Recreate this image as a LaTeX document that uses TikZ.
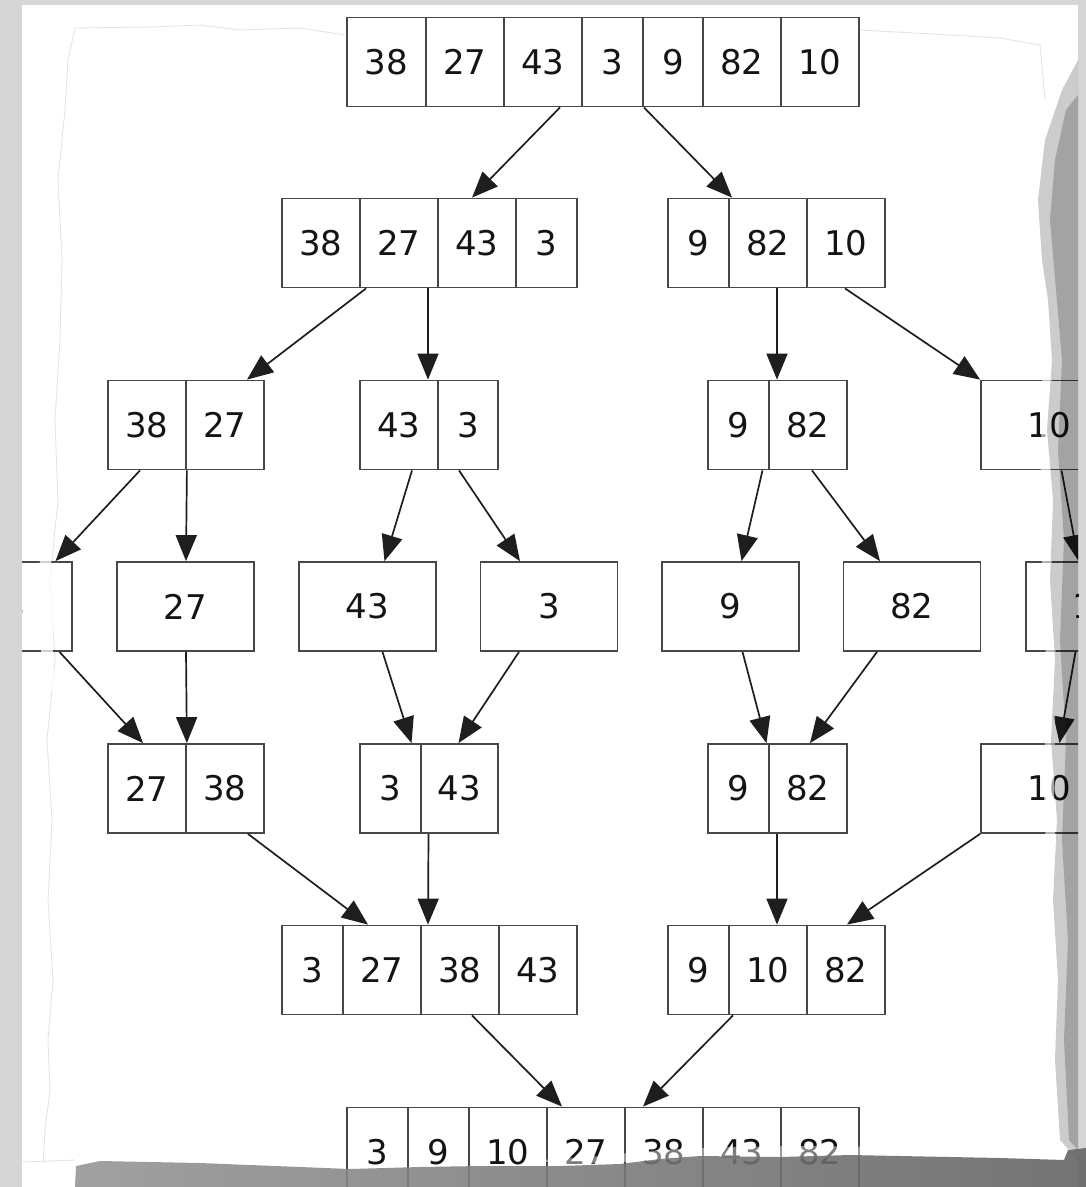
\documentclass[tikz,border=0pt]{standalone}
\usepackage{fontspec}
\setmainfont{DejaVu Sans}
\usetikzlibrary{arrows.meta}
\definecolor{bggray}{HTML}{D6D6D6}
\definecolor{boxc}{HTML}{484848}
\definecolor{arrc}{HTML}{1E1E1E}
\definecolor{torn}{HTML}{E2E2E2}
\begin{document}
\begin{tikzpicture}[x=1pt,y=-1pt,
  cell/.style={draw=boxc, line width=1.8pt, minimum height=89pt, inner sep=0pt,
    font=\fontsize{34}{40}\selectfont, text=black!92},
  w1/.style={cell, minimum width=61pt},
  w2/.style={cell, minimum width=78pt},
  w5/.style={cell, minimum width=137pt},
  arr/.style={draw=arrc, line width=1.7pt, -{Triangle[length=26pt,width=21pt]}},
  tornline/.style={draw=torn, line width=0.8pt}]
\useasboundingbox (0,0) rectangle (1086,1187);
\fill[bggray] (0,0) rectangle (1086,1187);
\fill[white] (22,5) rectangle (1078,1187);
% faint torn edges
\draw[tornline] (43,1163) -- (45,1130) -- (50,1090) -- (48,1040) -- (53,980) -- (48,900) -- (52,820) -- (47,740) -- (55,660) -- (50,580) -- (58,500) -- (55,420) -- (60,340) -- (62,260) -- (58,180) -- (65,110) -- (68,60) -- (75,28) -- (150,27) -- (200,25) -- (240,30) -- (300,28) -- (345,35);
\draw[tornline] (860,30) -- (950,35) -- (1000,38) -- (1040,45) -- (1045,100);
\draw[tornline] (22,1162) -- (75,1160);
\begin{scope}
\clip (22,5) rectangle (1078,1187);
% row 1
\node[w2, minimum width=79pt] (r1c1) at (386.5,62) {38};
\node[w2] (r1c2) at (465,62) {27};
\node[w2] (r1c3) at (543,62) {43};
\node[w1] (r1c4) at (612.5,62) {3};
\node[w1, minimum width=60pt] (r1c5) at (673,62) {9};
\node[w2] (r1c6) at (742,62) {82};
\node[w2] (r1c7) at (820,62) {10};
% row 2
\node[w2] (r2l1) at (321,243) {38};
\node[w2] (r2l2) at (399,243) {27};
\node[w2] (r2l3) at (477,243) {43};
\node[w1] (r2l4) at (546.5,243) {3};
\node[w1] (r2r1) at (698.5,243) {9};
\node[w2] (r2r2) at (768,243) {82};
\node[w2] (r2r3) at (846,243) {10};
% row 3
\node[w2] (r3a1) at (147,425) {38};
\node[w2] (r3a2) at (225,425) {27};
\node[w2] (r3b1) at (399,425) {43};
\node[w1, minimum width=60pt] (r3b2) at (468,425) {3};
\node[w1] (r3c1) at (738.5,425) {9};
\node[w2] (r3c2) at (808,425) {82};
\node[w5] (r3d) at (1049.5,425) {10};
% row 4
\node[w5] (r4a) at (3.5,606.5) {38};
\node[w5] (r4b) at (185.5,606.5) {27};
\node[w5] (r4c) at (367.5,606.5) {43};
\node[w5] (r4d) at (549,606.5) {3};
\node[w5] (r4e) at (730.5,606.5) {9};
\node[w5] (r4f) at (912,606.5) {82};
\node[w5] (r4g) at (1094.5,606.5) {10};
% row 5
\node[w2] (r5a1) at (147,788.5) {27};
\node[w2] (r5a2) at (225,788.5) {38};
\node[w1] (r5b1) at (390.5,788.5) {3};
\node[w2, minimum width=77pt] (r5b2) at (459.5,788.5) {43};
\node[w1] (r5c1) at (738.5,788.5) {9};
\node[w2] (r5c2) at (808,788.5) {82};
\node[w5] (r5d) at (1049.5,788.5) {10};
% row 6
\node[w1] (r6l1) at (312.5,970) {3};
\node[w2] (r6l2) at (382,970) {27};
\node[w2] (r6l3) at (460,970) {38};
\node[w2] (r6l4) at (538,970) {43};
\node[w1] (r6r1) at (698.5,970) {9};
\node[w2] (r6r2) at (768,970) {10};
\node[w2] (r6r3) at (846,970) {82};
% row 7
\node[w1] (r7c1) at (377.5,1152) {3};
\node[w1] (r7c2) at (438.5,1152) {9};
\node[w2] (r7c3) at (508,1152) {10};
\node[w2] (r7c4) at (586,1152) {27};
\node[w2] (r7c5) at (664,1152) {38};
\node[w2] (r7c6) at (742,1152) {43};
\node[w2] (r7c7) at (820,1152) {82};
% arrows
\draw[arr] ([xshift=17pt]r1c3.south) -- ([xshift=-5pt]r2l3.north);
\draw[arr] (r1c4.south east) -- ([xshift=4pt]r2r2.north west);
\draw[arr] ([xshift=7pt]r2l2.south west) -- ([xshift=22pt]r3a2.north);
\draw[arr] ([xshift=29pt]r2l2.south) -- ([xshift=29pt]r3b1.north);
\draw[arr] ([xshift=9pt]r2r2.south) -- ([xshift=-31pt]r3c2.north);
\draw[arr] ([xshift=-1pt]r2r3.south) -- (r3d.north west);
\draw[arr] ([xshift=-7pt]r3a1.south) -- ([xshift=52pt]r4a.north);
\draw[arr] (r3a1.south east) -- ([xshift=0.5pt]r4b.north);
\draw[arr] ([xshift=13pt]r3b1.south) -- ([xshift=17pt]r4c.north);
\draw[arr] ([xshift=-9pt]r3b2.south) -- ([xshift=-29pt]r4d.north);
\draw[arr] ([xshift=24pt]r3c1.south) -- ([xshift=11pt]r4e.north);
\draw[arr] ([xshift=4pt]r3c2.south) -- ([xshift=-32pt]r4f.north);
\draw[arr] ([xshift=12pt]r3d.south) -- ([xshift=-16pt]r4g.north);
\draw[arr] ([xshift=56pt]r4a.south) -- ([xshift=-4pt]r5a1.north);
\draw[arr] ([xshift=0.5pt]r4b.south) -- (r5a1.north east);
\draw[arr] ([xshift=15pt]r4c.south) -- ([xshift=21pt]r5b1.north);
\draw[arr] ([xshift=-30pt]r4d.south) -- ([xshift=-1pt]r5b2.north);
\draw[arr] ([xshift=12pt]r4e.south) -- ([xshift=28pt]r5c1.north);
\draw[arr] ([xshift=-35pt]r4f.south) -- ([xshift=2pt]r5c2.north);
\draw[arr] ([xshift=-19pt]r4g.south) -- ([xshift=10pt]r5d.north);
\draw[arr] ([xshift=23pt]r5a2.south) -- ([xshift=-14pt]r6l2.north);
\draw[arr] ([xshift=-31pt]r5b2.south) -- ([xshift=-32pt]r6l3.north);
\draw[arr] ([xshift=-31pt]r5c2.south) -- ([xshift=9pt]r6r2.north);
\draw[arr] (r5d.south west) -- ([xshift=1pt]r6r3.north);
\draw[arr] ([xshift=12pt]r6l3.south) -- ([xshift=-24pt]r7c4.north);
\draw[arr] ([xshift=-35pt]r6r2.south) -- ([xshift=-21pt]r7c5.north);
\end{scope}
% left torn strip (fades the cut box)
\fill[white, opacity=0.75] (34,520) -- (40,560) -- (36,600) -- (42,640) -- (38,690) -- (56,690) -- (52,640) -- (57,600) -- (51,560) -- (55,520) -- cycle;
% right torn fibre strip
\fill[white, opacity=0.6] (1040,120) -- (1036,250) -- (1042,380) -- (1040,520) -- (1046,660) -- (1044,800) -- (1050,940) -- (1048,1080) -- (1056,1150) -- (1062,1150) -- (1056,1080) -- (1058,940) -- (1054,800) -- (1056,660) -- (1050,520) -- (1052,380) -- (1046,250) -- (1048,120) -- cycle;
% right shadow of the torn edge
\fill[black, opacity=0.2] (1078,60) -- (1062,90) -- (1045,140) -- (1038,200) -- (1042,260) -- (1048,300) -- (1052,360) -- (1047,430) -- (1053,500) -- (1050,580) -- (1055,660) -- (1051,740) -- (1057,820) -- (1053,900) -- (1058,980) -- (1055,1060) -- (1060,1140) -- (1078,1160) -- cycle;
\fill[black, opacity=0.2] (1078,95) -- (1066,110) -- (1055,160) -- (1050,220) -- (1056,290) -- (1062,360) -- (1058,450) -- (1064,540) -- (1060,640) -- (1066,740) -- (1062,840) -- (1068,940) -- (1064,1040) -- (1069,1140) -- (1078,1150) -- cycle;
% white fuzz over the bottom text
\fill[white, opacity=0.45] (540,1160) -- (600,1156) -- (660,1150) -- (720,1147) -- (800,1146) -- (900,1147) -- (1000,1148) -- (1086,1149) -- (1086,1158) -- (1000,1153) -- (900,1157) -- (780,1159) -- (660,1160) -- (560,1165) -- cycle;
% bottom dark band
\shade[left color=black!42, right color=black!62, opacity=0.88] (75,1187) -- (76,1166) -- (100,1161) -- (200,1163) -- (300,1167) -- (350,1169) -- (420,1167) -- (480,1166) -- (560,1166) -- (620,1164) -- (660,1159) -- (700,1156) -- (780,1157) -- (850,1155) -- (950,1157) -- (1000,1158) -- (1064,1160) -- (1068,1150) -- (1086,1148) -- (1086,1187) -- cycle;
\end{tikzpicture}
\end{document}
